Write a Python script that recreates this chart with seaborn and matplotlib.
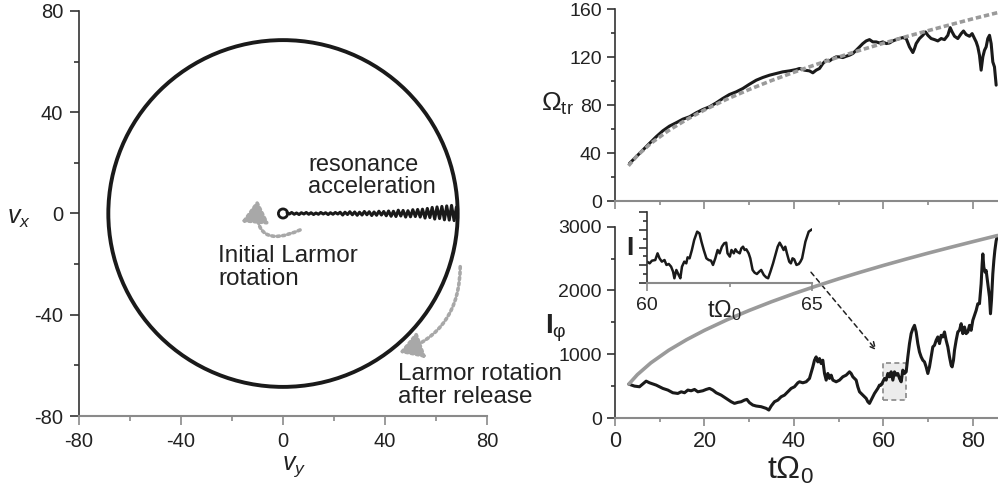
import numpy as np
import pandas as pd
import matplotlib
matplotlib.use("Agg")
import matplotlib.pyplot as plt
import seaborn as sns
from matplotlib.patches import Circle, Rectangle
from matplotlib.ticker import MultipleLocator, FixedLocator

# ---------------- data ----------------
# left panel: velocity-space trajectory
larmor_radius = 1.8
release_radius = 68.5
res_vy = [1.6, 2.5, 3.4, 4.4, 5.3, 6.3, 7.2, 8.2, 9.1, 10.1, 11.0, 12.0, 12.9, 13.9,
          14.8, 15.8, 16.7, 17.7, 18.6, 19.6, 20.5, 21.5, 22.4, 23.4, 24.3, 25.3, 26.2,
          27.2, 28.1, 29.1, 30.0, 31.0, 31.9, 32.9, 33.8, 34.8, 35.7, 36.7, 37.6, 38.6,
          39.5, 40.5, 41.4, 42.4, 43.3, 44.3, 45.2, 46.2, 47.1, 48.1, 49.0, 50.0, 50.9,
          51.9, 52.8, 53.8, 54.7, 55.7, 56.6, 57.6, 58.5, 59.5, 60.4, 61.4, 62.3, 63.3,
          64.2, 65.2, 66.1, 67.1, 68.0]
res_vx = [0.3, -0.2, 0.4, -0.3, 0.2, -0.4, 0.3, -0.2, 0.4, -0.3, 0.3, -0.4, 0.2, -0.3,
          0.4, -0.2, 0.3, -0.4, 0.3, -0.3, 0.4, -0.2, 0.5,
          -0.6, 0.5, -0.4, 0.7, -0.5, 0.6, -0.7, 0.5, -0.6, 0.8, -0.5, 0.7, -0.8, 0.6,
          -0.7, 0.9, -0.6, 0.8, -0.9,
          1.0, -1.1, 0.9, -1.2, 1.3, -1.0, 1.2, -1.4, 1.1, -1.3, 1.5, -1.2, 1.6, -1.4, 1.7,
          -1.8, 2.0, -1.6, 2.4, -2.2, 2.6, -2.0, 2.8, -2.5, 3.0, -2.6, 3.2, -2.8, 2.5]

# top right panel: Omega_tr(t)
t_om = [3.24, 4.73, 6.22, 7.71, 9.20, 10.69, 12.18, 13.67, 15.16, 16.65, 18.14, 19.63,
        21.12, 22.61, 24.10, 25.59, 27.08, 28.57, 30.06, 31.55, 33.03, 34.53, 36.01,
        37.50, 38.99, 40.48, 41.23, 42.35, 43.46, 44.21, 44.95, 45.70, 46.44, 47.19,
        47.93, 48.68, 49.42, 50.17, 50.91, 51.66, 52.40, 53.15, 53.89, 54.64, 55.38,
        56.13, 56.87, 57.62, 58.36, 59.11, 59.85, 60.60, 61.34, 62.09, 62.83, 63.58,
        64.32, 65.07, 65.81, 66.56, 66.93, 67.30, 68.04, 68.79, 69.39, 69.91, 70.65,
        71.40, 72.14, 72.89, 73.63, 74.38, 74.90, 75.34, 75.87, 76.61, 77.36, 77.88,
        78.47, 79.22, 79.81, 80.34, 80.71, 81.08, 81.45, 81.82, 82.20, 82.57, 82.94,
        83.31, 83.69, 84.06, 84.43, 84.80, 85.18]
om_tr = [31.4, 36.9, 42.5, 48.1, 53.6, 58.6, 62.5, 65.3, 68.3, 70.3, 73.6, 76.4,
         78.6, 81.9, 85.6, 88.9, 91.1, 93.9, 97.5, 100.8, 103.1, 105.0, 106.4,
         107.8, 108.6, 109.7, 110.6, 109.2, 108.6, 107.0, 109.2, 110.6, 114.7, 117.5,
         116.9, 118.9, 120.3, 120.3, 119.7, 120.8, 121.7, 123.1, 125.8, 128.6, 131.4,
         133.6, 134.7, 132.8, 132.8, 131.9, 132.8, 131.4, 131.9, 133.6, 134.7, 135.6,
         136.4, 135.6, 128.6, 123.9, 127.2, 131.4, 135.6, 138.3, 141.1, 138.3, 135.6,
         134.7, 133.6, 135.6, 134.7, 138.3, 144.7, 141.1, 137.5, 135.6, 139.7, 141.9,
         138.9, 137.5, 139.7, 135.6, 132.8, 128.6, 121.7, 109.2, 120.3, 125.8, 128.6,
         135.6, 138.3, 131.4, 116.1, 111.9, 96.7]
t_fit = [3.0, 5.0, 8.0, 12.0, 16.0, 20.0, 25.0, 30.0, 35.0, 40.0, 45.0, 50.0, 55.0,
         60.0, 65.0, 70.0, 75.0, 80.0, 85.5]
om_fit = [29.4, 38.0, 48.1, 58.9, 68.0, 76.0, 85.0, 93.1, 100.6, 107.5, 114.0, 120.2,
          126.1, 131.7, 137.1, 142.2, 147.2, 152.1, 157.2]

# bottom right panel: I_phi(t)
t_I = [3.09, 4.36, 5.47, 6.96, 7.71, 9.20, 10.69, 11.81, 12.92, 14.04, 14.79, 15.53,
       16.28, 17.02, 17.77, 18.51, 19.63, 20.37, 21.12, 21.86, 22.61, 23.72, 24.84,
       25.96, 26.70, 27.45, 28.19, 28.94, 29.46, 30.06, 30.80, 31.55, 32.66, 33.78,
       34.38, 34.90, 35.64, 36.39, 37.13, 37.88, 38.62, 39.37, 40.11, 40.86,
       41.23, 41.97, 42.72, 43.46, 44.21, 44.58, 44.95, 45.33, 45.70, 46.07, 46.44,
       46.82, 47.19, 47.56, 47.93, 48.31, 48.68, 49.42, 50.17, 50.91, 51.66, 52.40,
       52.77, 53.15, 53.89, 54.26, 54.64, 55.38, 56.13, 56.50, 56.87, 57.24, 57.62,
       57.99, 58.73, 59.11, 59.48, 59.85, 60.22, 60.60, 60.97, 61.34, 61.71, 62.09,
       62.46, 62.83, 63.20, 63.58, 63.95, 64.32, 64.69, 65.07, 65.44, 65.81, 66.18,
       66.56, 66.93, 67.30, 67.67, 68.04, 68.42, 68.79, 69.16, 69.53, 69.91, 70.28,
       70.65, 71.02, 71.40, 71.77, 72.14, 72.51, 72.89, 73.26, 73.63, 74.00, 74.38,
       74.75, 75.12, 75.34, 75.64, 75.87, 76.24, 76.61, 76.98, 77.36, 77.73, 78.10,
       78.47, 78.85, 79.22, 79.59, 79.96, 80.34, 80.71, 81.08, 81.45, 81.82, 82.05,
       82.20, 82.42, 82.72, 82.94, 83.31, 83.69, 83.91, 84.13, 84.43, 84.66, 84.88,
       85.18, 85.47]
I_phi = [531, 500, 490, 578, 552, 516, 464, 438, 396, 385, 411, 396,
         438, 427, 448, 411, 427, 448, 464, 438, 396, 359, 307,
         255, 229, 245, 255, 281, 292, 240, 203, 188, 177, 151,
         125, 188, 255, 281, 333, 359, 411, 464, 490, 552,
         568, 552, 568, 620, 802, 906, 958, 880, 932, 854, 906,
         698, 594, 698, 620, 672, 594, 568, 594, 646, 672, 724,
         698, 646, 594, 490, 411, 359, 307, 255, 229, 281, 333,
         385, 464, 516, 516, 568, 620, 594, 698, 646, 724, 594,
         724, 672, 698, 620, 568, 750, 698, 724, 958, 1167, 1323,
         1401, 1453, 1349, 1167, 1036, 958, 906, 880, 802, 698, 802,
         958, 1115, 1141, 1219, 1271, 1167, 1297, 1271, 1349, 1219, 1115,
         958, 828, 802, 906, 1063, 1219, 1349, 1375, 1479, 1323, 1427,
         1323, 1349, 1453, 1375, 1531, 1609, 1688, 1792, 1792, 2104, 2417,
         2573, 2365, 2286, 2313, 2104, 1896, 1635, 1844, 2260, 2469, 2625,
         2781, 2859]
t_Ifit = [3.1, 5.0, 8.0, 12.0, 16.0, 20.0, 25.0, 30.0, 35.0, 40.0, 45.0, 50.0, 55.0,
          60.0, 65.0, 70.0, 75.0, 80.0, 85.5]
I_fit = [532, 680, 864, 1062, 1228, 1375, 1539, 1687, 1824, 1951, 2070, 2183, 2290,
         2393, 2491, 2586, 2677, 2766, 2862]

# inset: zoom of t = 60..65 (arbitrary units)
t_in = [60.00, 60.08, 60.15, 60.25, 60.32, 60.38, 60.45, 60.53, 60.59, 60.66, 60.73,
        60.79, 60.83, 60.89, 60.96, 61.01, 61.06, 61.13, 61.19, 61.23, 61.29, 61.36,
        61.43, 61.52, 61.59, 61.65, 61.72, 61.80, 61.87, 61.94, 62.00, 62.07, 62.14,
        62.20, 62.27, 62.34, 62.40, 62.44, 62.51, 62.56, 62.63, 62.68, 62.73, 62.81,
        62.86, 62.91, 62.96, 63.01, 63.08, 63.13, 63.20, 63.26, 63.33, 63.40, 63.46,
        63.54, 63.61, 63.67, 63.74, 63.82, 63.89, 63.96, 64.02, 64.09, 64.14, 64.19,
        64.24, 64.31, 64.36, 64.41, 64.46, 64.53, 64.60, 64.65, 64.70, 64.75, 64.80,
        64.85, 64.90, 64.97, 65.00]
I_in = [2.42, 2.23, 2.53, 2.60, 3.35, 2.79, 2.42, 2.60, 2.05, 2.16, 1.86,
        1.30, 0.56, 1.49, 0.93, 0.56, 1.86, 2.42, 2.23, 2.90, 2.79, 3.72,
        4.84, 5.77, 5.58, 4.65, 3.72, 2.79, 2.60, 2.53, 2.05, 2.79, 3.72,
        3.35, 4.09, 4.47, 4.54, 3.35, 2.98, 3.72, 3.35, 3.80, 3.53, 3.35,
        3.91, 4.09, 3.72, 3.80, 3.35, 2.79, 1.49, 1.19, 1.04, 1.30, 1.49,
        0.93, 0.67, 0.56, 1.30, 2.23, 3.16, 4.09, 4.54, 4.09, 3.72, 4.09,
        3.35, 2.42, 2.23, 2.79, 2.68, 2.05, 2.16, 2.42, 2.79, 3.72, 4.65,
        5.21, 5.77, 5.95, 6.03]

# zoom window marked on the main plot
box_t = [59.8, 65.1]
box_I = [280, 865]

# ---------------- styling ----------------
sns.set_theme(style="ticks")
plt.rcParams['font.family'] = ['Liberation Sans', 'DejaVu Sans']
plt.rcParams['axes.unicode_minus'] = False
plt.rcParams['mathtext.fontset'] = 'custom'
plt.rcParams['mathtext.rm'] = 'Liberation Sans'
plt.rcParams['mathtext.it'] = 'Liberation Sans:italic'
plt.rcParams['mathtext.bf'] = 'Liberation Sans:bold'

TXT = '#222222'
BLK = '#1a1a1a'
GRY = '#9a9a9a'
YSP = '#333333'
XSP = '#8a8a8a'

W, H = 998, 494
fig = plt.figure(figsize=(W / 100, H / 100), dpi=100)


def frac(l, t, r, b):
    return [l / W, 1 - b / H, (r - l) / W, (b - t) / H]


def style(ax, labelsize=14.5, length=6, pad=3.5):
    ax.set_facecolor('none')
    for s in ['top', 'right']:
        ax.spines[s].set_visible(False)
    ax.spines['left'].set_color(YSP)
    ax.spines['bottom'].set_color(XSP)
    ax.spines['left'].set_linewidth(1.2)
    ax.spines['bottom'].set_linewidth(1.5)
    ax.tick_params(which='major', direction='out', length=length, width=1.2,
                   labelsize=labelsize, labelcolor=TXT, pad=pad)
    ax.tick_params(which='minor', direction='out', length=length / 2, width=1.2)
    ax.tick_params(axis='y', which='both', color=YSP)
    ax.tick_params(axis='x', which='both', color=XSP)
    ax.grid(False)


# ---------------- left panel ----------------
axL = fig.add_axes(frac(79, 11, 487, 416))
style(axL, labelsize=14.5, length=6.5, pad=5)
axL.add_patch(Circle((0, 0), release_radius, fill=False, lw=2.8, ec=BLK, zorder=3))
axL.add_patch(Circle((0, 0), larmor_radius, fill=False, lw=2.0, ec=BLK, zorder=3))
sns.lineplot(x=res_vy, y=res_vx, sort=False, estimator=None, color=BLK, lw=2.2,
             ax=axL, zorder=3)
axL.set_xlim(-80, 80)
axL.set_ylim(-80, 80)
axL.xaxis.set_major_locator(MultipleLocator(40))
axL.xaxis.set_minor_locator(MultipleLocator(20))
axL.yaxis.set_major_locator(MultipleLocator(40))
axL.yaxis.set_minor_locator(MultipleLocator(20))
axL.set_xlabel('')
axL.set_ylabel('')
fig.text(19 / W, 1 - 218 / H, r'$v_x$', fontsize=18, color=TXT, ha='center', va='center')
fig.text(294 / W, 1 - 467 / H, r'$v_y$', fontsize=18, color=TXT, ha='center', va='center')

axL.text(9.8, 14.8, 'resonance\nacceleration', fontsize=17, color=TXT,
         ha='left', va='center', linespacing=1.05)
axL.text(-25.5, -21.5, 'Initial Larmor\nrotation', fontsize=17.5, color=TXT,
         ha='left', va='center', linespacing=1.05)
axL.text(45.1, -68.0, 'Larmor rotation\nafter release', fontsize=17.5, color=TXT,
         ha='left', va='center', linespacing=1.05)

arrow_kw = dict(arrowstyle='-|>,head_length=0.75,head_width=0.45', color='#a8a8a8',
                lw=2.6, linestyle=(0, (0.6, 0.9)), mutation_scale=18,
                shrinkA=0, shrinkB=0)
axL.annotate('', xy=(-10.0, 5.5), xytext=(6.7, -6.5),
             arrowprops=dict(connectionstyle='arc3,rad=-0.85', **arrow_kw))
axL.annotate('', xy=(45.5, -55.0), xytext=(69.5, -21.0),
             arrowprops=dict(connectionstyle='arc3,rad=-0.35', **arrow_kw))

# ---------------- top right panel ----------------
axT = fig.add_axes(frac(615, 9.3, 997.6, 201))
style(axT, labelsize=14)
sns.lineplot(x=t_om, y=om_tr, estimator=None, sort=False, color=BLK, lw=2.2, ax=axT)
sns.lineplot(x=t_fit, y=om_fit, estimator=None, sort=False, color=GRY, lw=2.6,
             linestyle=(0, (1.5, 0.8)), ax=axT)
axT.set_xlim(0, 85.5)
axT.set_ylim(0, 160)
axT.xaxis.set_major_locator(MultipleLocator(20))
axT.xaxis.set_minor_locator(MultipleLocator(10))
axT.yaxis.set_major_locator(MultipleLocator(40))
axT.yaxis.set_minor_locator(MultipleLocator(20))
axT.tick_params(axis='x', labelbottom=False)
axT.set_xlabel('')
axT.set_ylabel('')
fig.text(557 / W, 1 - 104 / H, r'$\Omega_{\mathrm{tr}}$', fontsize=19, color=TXT,
         ha='center', va='center')

# ---------------- bottom right panel ----------------
axB = fig.add_axes(frac(615, 226.7, 997.6, 418))
style(axB, labelsize=14)
axB.add_patch(Rectangle((box_t[0], box_I[0]), box_t[1] - box_t[0], box_I[1] - box_I[0],
                        fc='#ececec', ec='#888888', lw=1.2, ls=(0, (3, 2)), zorder=1))
sns.lineplot(x=t_I, y=I_phi, estimator=None, sort=False, color=BLK, lw=2.2, ax=axB,
             zorder=3)
sns.lineplot(x=t_Ifit, y=I_fit, estimator=None, sort=False, color=GRY, lw=2.6, ax=axB,
             zorder=4)
axB.set_xlim(0, 85.5)
axB.set_ylim(0, 3000)
axB.xaxis.set_major_locator(MultipleLocator(20))
axB.xaxis.set_minor_locator(MultipleLocator(10))
axB.yaxis.set_major_locator(MultipleLocator(1000))
axB.yaxis.set_minor_locator(MultipleLocator(500))
axB.tick_params(axis='x', labelsize=15.5, pad=3.5)
axB.set_xlabel('')
axB.set_ylabel('')
axB.annotate('', xy=(58.4, 1063), xytext=(43.8, 2286),
             arrowprops=dict(arrowstyle='->', color=TXT, lw=1.1, linestyle=(0, (3, 2.5)),
                             shrinkA=0, shrinkB=0))
fig.text(790 / W, 1 - 470 / H, r'$\mathrm{t\Omega_0}$', fontsize=23, color=TXT,
         ha='center', va='center')
fig.text(556 / W, 1 - 328 / H, r'$\mathbf{I}_{\mathrm{φ}}$', fontsize=20, color=TXT,
         ha='center', va='center')

# ---------------- inset ----------------
axI = fig.add_axes(frac(647, 211.7, 812, 283.3))
style(axI, labelsize=14)
sns.lineplot(x=t_in, y=I_in, estimator=None, sort=False, color=BLK, lw=1.8, ax=axI)
axI.set_xlim(60, 65)
axI.set_ylim(0, 8)
axI.xaxis.set_major_locator(FixedLocator([60, 65]))
axI.xaxis.set_minor_locator(FixedLocator([62.5]))
axI.yaxis.set_major_locator(MultipleLocator(2))
axI.yaxis.set_minor_locator(MultipleLocator(1))
axI.tick_params(axis='y', labelleft=False)
axI.tick_params(axis='x', pad=4)
axI.set_xlabel('')
axI.set_ylabel('')
fig.text(724 / W, 1 - 311 / H, r'$\mathrm{t\Omega_0}$', fontsize=17, color=TXT,
         ha='center', va='center')
fig.text(630 / W, 1 - 248 / H, r'$\mathbf{I}$', fontsize=19, color=TXT,
         ha='center', va='center')

fig.savefig('out.png', dpi=100)
